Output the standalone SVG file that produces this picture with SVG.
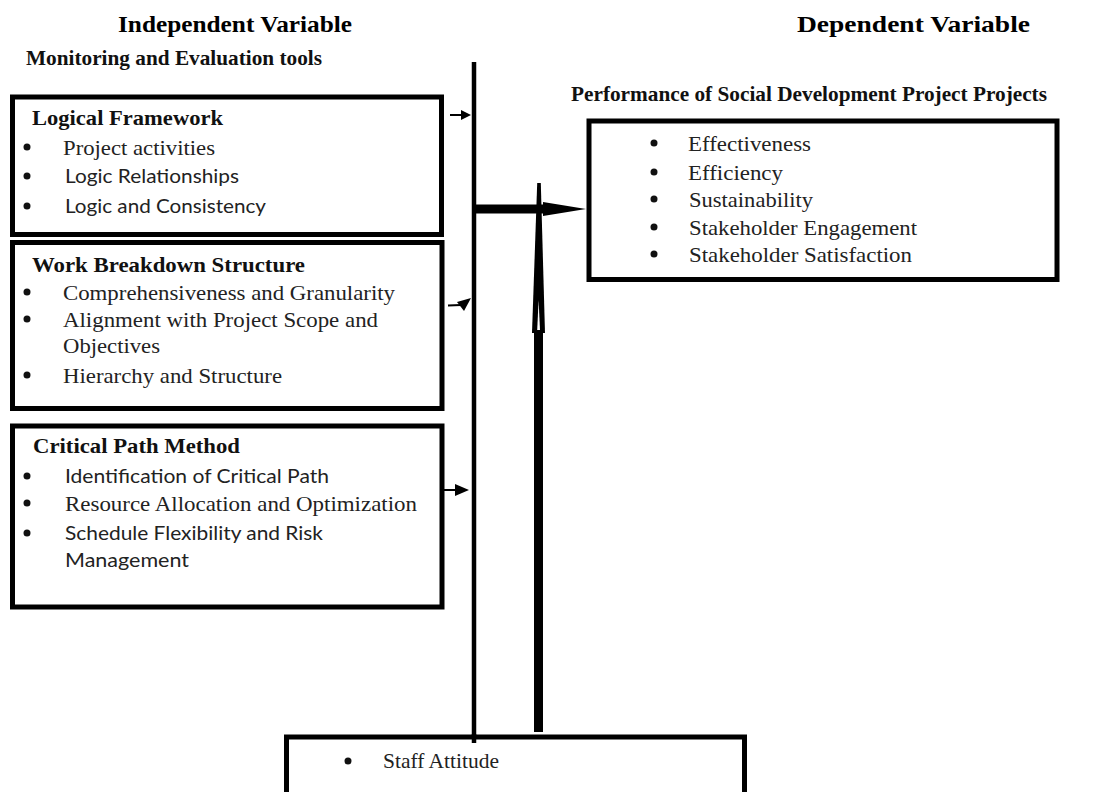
<svg xmlns="http://www.w3.org/2000/svg" width="1119" height="792" viewBox="0 0 1119 792">
<style>
.box{fill:#fff;stroke:#000;stroke-width:5}
.hd{font-family:"Liberation Serif",serif;font-weight:bold;font-size:24px;fill:#000}
.st{font-family:"Liberation Serif",serif;font-weight:bold;font-size:21px;fill:#111}
.tt{font-family:"Liberation Serif",serif;font-weight:bold;font-size:22px;fill:#111}
.sr{font-family:"Liberation Serif",serif;font-size:22px;fill:#222}
.ss{font-family:Lato,"Liberation Sans",sans-serif;font-size:20px;fill:#222}
.bl{fill:#111}
</style>
<rect width="1119" height="792" fill="#fff"/>
<g id="labels">
<text class="hd" x="118" y="32" textLength="234" lengthAdjust="spacingAndGlyphs">Independent Variable</text>
<text class="hd" x="797" y="32" textLength="233" lengthAdjust="spacingAndGlyphs">Dependent Variable</text>
<text class="st" x="26" y="65" textLength="296" lengthAdjust="spacingAndGlyphs">Monitoring and Evaluation tools</text>
<text class="st" x="571" y="101" textLength="476" lengthAdjust="spacingAndGlyphs">Performance of Social Development Project Projects</text>
</g>
<g id="logframe">
<rect class="box" x="12.5" y="97" width="429" height="137.5"/>
<text class="tt" x="32" y="125" textLength="191" lengthAdjust="spacingAndGlyphs">Logical Framework</text>
<circle class="bl" cx="27" cy="147" r="3.5"/>
<text class="sr" x="63" y="155" textLength="152" lengthAdjust="spacingAndGlyphs">Project activities</text>
<circle class="bl" cx="27" cy="176" r="3.5"/>
<text class="ss" x="65" y="183" textLength="174" lengthAdjust="spacingAndGlyphs">Logic Relationships</text>
<circle class="bl" cx="27" cy="206" r="3.5"/>
<text class="ss" x="65" y="213" textLength="201" lengthAdjust="spacingAndGlyphs">Logic and Consistency</text>
</g>
<g id="wbs">
<rect class="box" x="12.5" y="242.5" width="429.5" height="166"/>
<text class="tt" x="32" y="272" textLength="273" lengthAdjust="spacingAndGlyphs">Work Breakdown Structure</text>
<circle class="bl" cx="27" cy="292" r="3.5"/>
<text class="sr" x="63" y="300" textLength="332" lengthAdjust="spacingAndGlyphs">Comprehensiveness and Granularity</text>
<circle class="bl" cx="27" cy="319" r="3.5"/>
<text class="sr" x="63" y="327" textLength="315" lengthAdjust="spacingAndGlyphs">Alignment with Project Scope and</text>
<text class="sr" x="63" y="353" textLength="97" lengthAdjust="spacingAndGlyphs">Objectives</text>
<circle class="bl" cx="27" cy="375" r="3.5"/>
<text class="sr" x="63" y="383" textLength="219" lengthAdjust="spacingAndGlyphs">Hierarchy and Structure</text>
</g>
<g id="cpm">
<rect class="box" x="12.5" y="426" width="429.5" height="181"/>
<text class="tt" x="33" y="453" textLength="207" lengthAdjust="spacingAndGlyphs">Critical Path Method</text>
<circle class="bl" cx="27" cy="476" r="3.5"/>
<text class="ss" x="65" y="483" textLength="264" lengthAdjust="spacingAndGlyphs">Identification of Critical Path</text>
<circle class="bl" cx="27" cy="503" r="3.5"/>
<text class="sr" x="65" y="511" textLength="352" lengthAdjust="spacingAndGlyphs">Resource Allocation and Optimization</text>
<circle class="bl" cx="27" cy="533" r="3.5"/>
<text class="ss" x="65" y="540" textLength="258" lengthAdjust="spacingAndGlyphs">Schedule Flexibility and Risk</text>
<text class="ss" x="65" y="567" textLength="124" lengthAdjust="spacingAndGlyphs">Management</text>
</g>
<g id="performance">
<rect class="box" x="589" y="121" width="468" height="158.5"/>
<circle class="bl" cx="654" cy="143" r="3.5"/>
<text class="sr" x="688" y="151" textLength="123" lengthAdjust="spacingAndGlyphs">Effectiveness</text>
<circle class="bl" cx="654" cy="172" r="3.5"/>
<text class="sr" x="688" y="180" textLength="95" lengthAdjust="spacingAndGlyphs">Efficiency</text>
<circle class="bl" cx="654" cy="199" r="3.5"/>
<text class="sr" x="689" y="207" textLength="124" lengthAdjust="spacingAndGlyphs">Sustainability</text>
<circle class="bl" cx="654" cy="227" r="3.5"/>
<text class="sr" x="689" y="235" textLength="228" lengthAdjust="spacingAndGlyphs">Stakeholder Engagement</text>
<circle class="bl" cx="654" cy="254" r="3.5"/>
<text class="sr" x="689" y="262" textLength="223" lengthAdjust="spacingAndGlyphs">Stakeholder Satisfaction</text>
</g>
<g id="connectors">
<line x1="474" y1="62" x2="474" y2="743" stroke="#000" stroke-width="4.5"/>
<line x1="450" y1="115" x2="463" y2="115" stroke="#000" stroke-width="2"/>
<polygon points="461,110 471,115 461,120" fill="#000"/>
<line x1="448" y1="305.5" x2="461" y2="305" stroke="#000" stroke-width="2"/>
<polygon points="457,302 471,298 464,311" fill="#000"/>
<line x1="443" y1="490" x2="458" y2="490" stroke="#000" stroke-width="2"/>
<polygon points="455,484 469,490 455,496" fill="#000"/>
<rect x="476" y="204.5" width="70" height="9" fill="#000"/>
<polygon points="543,202 586,209 543,216" fill="#000"/>
<polygon points="537.2,183 540.8,183 545,333 532,333" fill="#000"/>
<polygon points="538.6,300 540,330 537.2,330" fill="#fff"/>
<rect x="534" y="333" width="9" height="399" fill="#000"/>
</g>
<g id="staff">
<rect class="box" x="286.5" y="737" width="458" height="70"/>
<line x1="474" y1="734" x2="474" y2="743" stroke="#000" stroke-width="4.5"/>
<circle class="bl" cx="348" cy="761" r="3.5"/>
<text class="sr" x="383" y="768" textLength="116" lengthAdjust="spacingAndGlyphs">Staff Attitude</text>
</g>
</svg>
